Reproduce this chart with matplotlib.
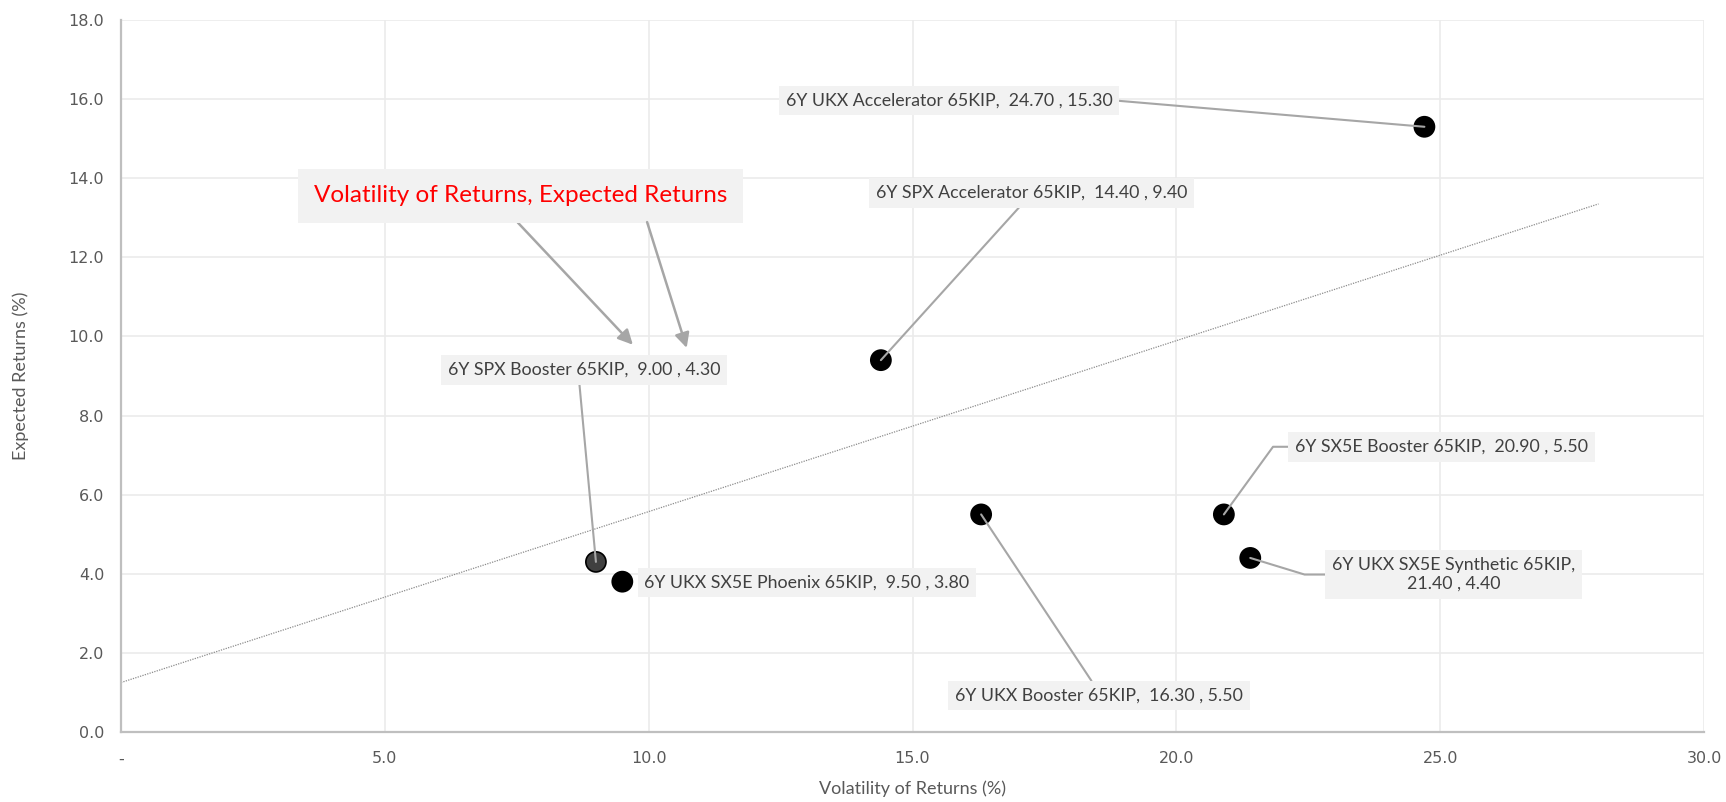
import matplotlib.pyplot as plt
from matplotlib.ticker import FuncFormatter

# Risk / return of each product
products = [
    "6Y UKX Accelerator 65KIP",
    "6Y SPX Accelerator 65KIP",
    "6Y SPX Booster 65KIP",
    "6Y UKX SX5E Phoenix 65KIP",
    "6Y UKX Booster 65KIP",
    "6Y SX5E Booster 65KIP",
    "6Y UKX SX5E Synthetic 65KIP",
]
volatility = [24.70, 14.40, 9.00, 9.50, 16.30, 20.90, 21.40]
expected = [15.30, 9.40, 4.30, 3.80, 5.50, 5.50, 4.40]

# dotted trend line ends
trend_x = [0.0, 28.0]
trend_y = [1.25, 13.35]

x_ticks = [0, 5, 10, 15, 20, 25, 30]
y_ticks = [0, 2, 4, 6, 8, 10, 12, 14, 16, 18]

# label box centres (data units), leader start on box, connection style
label_pos = [
    (15.69, 15.97, (1.0, 0.5), "arc3"),
    (17.25, 13.63, (0.48, 0.0), "arc3"),
    (8.78, 9.15, (0.48, 0.0), "arc3"),
    (13.00, 3.78, None, None),
    (18.53, 0.92, (0.49, 1.0), "arc3"),
    (25.02, 7.21, (0.0, 0.5), "angle,angleA=0,angleB=54,rad=0"),
    (25.25, 3.98, (0.0, 0.5), "angle,angleA=0,angleB=-17,rad=0"),
]

LINE = "#a6a6a6"
TEXT = "#404040"
BOX = "#f2f2f2"

fig = plt.figure(figsize=(17.26, 8.02), dpi=100)
ax = fig.add_axes([0.0701, 0.0873, 0.9172, 0.8878])

ax.set_xlim(0, 30)
ax.set_ylim(0, 18)
ax.set_xticks(x_ticks)
ax.set_yticks(y_ticks)
ax.xaxis.set_major_formatter(FuncFormatter(lambda v, p: "-" if v == 0 else f"{v:.1f}"))
ax.yaxis.set_major_formatter(FuncFormatter(lambda v, p: f"{v:.1f}"))
ax.grid(True, color="#ebebeb", lw=1.2)
ax.set_axisbelow(True)
for s in ["top", "right"]:
    ax.spines[s].set_visible(False)
for s in ["left", "bottom"]:
    ax.spines[s].set_color("#bfbfbf")
    ax.spines[s].set_linewidth(1.6)
ax.tick_params(length=0, colors="#595959", labelsize=11.5)
ax.tick_params(axis="y", pad=12)
ax.tick_params(axis="x", pad=14)

ax.set_xlabel("Volatility of Returns (%)", fontfamily="Lato", fontsize=13,
              color="#595959")
ax.set_ylabel("Expected Returns (%)", fontfamily="Lato", fontsize=13,
              color="#595959")
ax.xaxis.set_label_coords(0.5, -0.068)
ax.yaxis.set_label_coords(-0.058, 0.5)

ax.plot(trend_x, trend_y, ls=(0, (1, 1)), color="#8c8c8c", lw=0.9, zorder=1)

colors = ["black"] * len(products)
colors[2] = "#404040"
ax.scatter(volatility, expected, s=210, c=colors, edgecolors="black",
           linewidths=1.2, zorder=3)

for name, x, y, (tx, ty, rel, conn) in zip(products, volatility, expected, label_pos):
    if "Synthetic" in name:
        txt = f"{name},\n{x:.2f} , {y:.2f}"
    else:
        txt = f"{name},  {x:.2f} , {y:.2f}"
    arrow = None
    if rel is not None:
        arrow = dict(arrowstyle="-", color=LINE, lw=1.5, shrinkA=0, shrinkB=0,
                     relpos=rel, connectionstyle=conn)
    ax.annotate(txt, xy=(x, y), xytext=(tx, ty), textcoords="data",
                ha="center", va="center", multialignment="center",
                fontfamily="Lato", fontsize=12.8, color=TEXT,
                bbox=dict(boxstyle="square,pad=0.38", fc=BOX, ec="none"),
                arrowprops=arrow, zorder=4)

# series name callout with two arrows
head = dict(arrowstyle="-|>", color=LINE, lw=1.8, mutation_scale=22,
            shrinkA=0, shrinkB=0)
ax.annotate("Volatility of Returns, Expected Returns", xy=(9.70, 9.79),
            xytext=(7.57, 13.55), ha="center", va="center",
            fontfamily="Lato", fontsize=17.5, color="#ff0000",
            bbox=dict(boxstyle="square,pad=0.66", fc=BOX, ec="none"),
            arrowprops=dict(head, relpos=(0.457, 0.0)), zorder=4)
ax.annotate("", xy=(10.72, 9.71), xytext=(9.97, 12.89),
            arrowprops=head, zorder=4)

fig.savefig("out.png", dpi=100)
